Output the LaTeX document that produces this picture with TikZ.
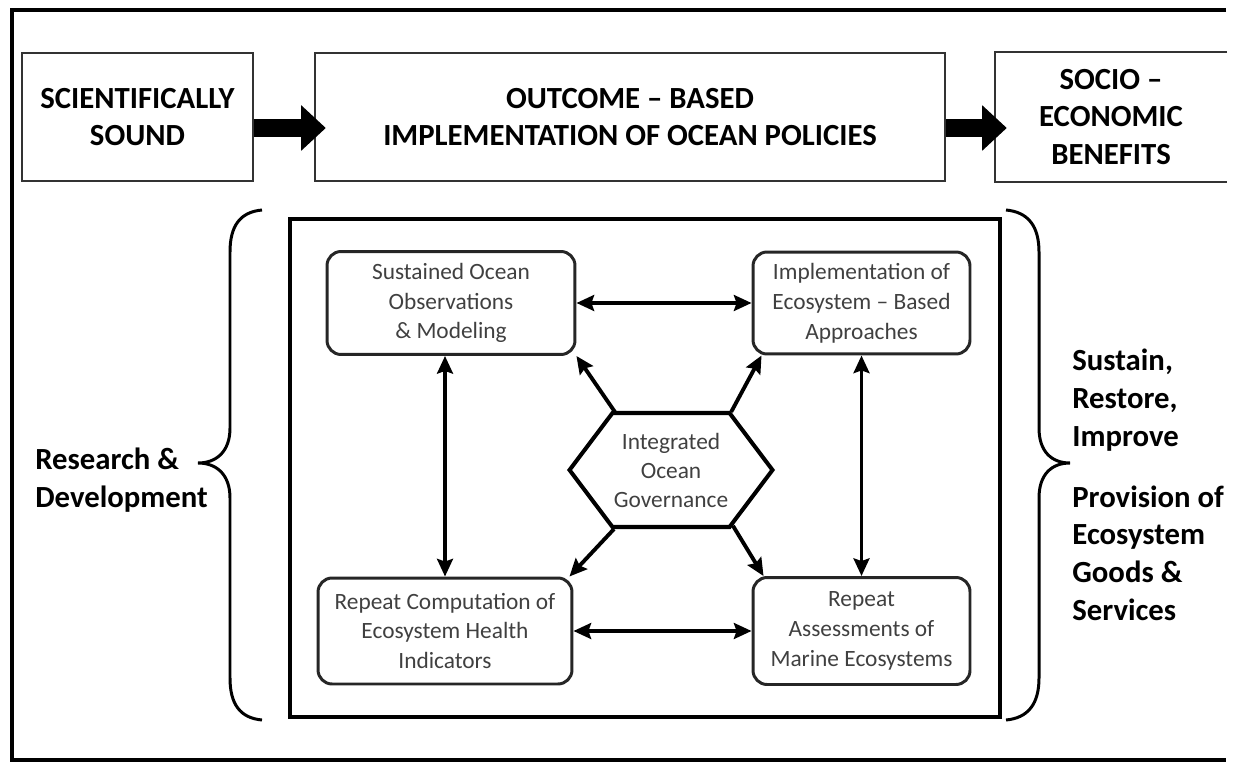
\documentclass[tikz,border=0pt]{standalone}
\usepackage{fontspec}
\setmainfont{Carlito}
\usetikzlibrary{positioning,shapes,arrows.meta}

\begin{document}
\begin{tikzpicture}[x=0.02cm, y=-0.02cm]
    \tikzset{
        topbox/.style = {rectangle, line width=1.4pt, draw=black!80, minimum height=2.56cm, inner sep=0pt, align=center, font=\bfseries\fontsize{17.5}{21.5}\selectfont},
        roundbox/.style = {rectangle, rounded corners=8pt, line width=1.7pt, draw=black!85, inner sep=0pt, align=center, text=black!75, font=\fontsize{13.3}{17}\selectfont},
        sidetext/.style = {align=left, inner sep=0pt, font=\bfseries\fontsize{17.5}{21.5}\selectfont},
        arrow/.style = {line width=2.2pt, ->, >={Stealth[length=10pt,width=9pt,inset=1.5pt]}},
        twoway/.style = {arrow, <->},
        fatarrow/.style = {line width=10.5pt, -{Triangle[length=14pt,width=25pt]}},
        curly/.style = {line width=1.7pt},
    }
    \useasboundingbox (0,0) rectangle (1233,763);
    \draw [line width=2.3pt] (1226,10) -- (12,10) -- (12,760) -- (1226,760);

    \node (sound) [topbox, minimum width=4.62cm] at (137.5,117) {SCIENTIFICALLY\\ SOUND};
    \node (outcome) [topbox, minimum width=12.6cm] at (630,117) {OUTCOME – BASED\\ IMPLEMENTATION OF OCEAN POLICIES};
    \node (socio) [topbox, draw=none, minimum width=4.6cm] at (1111,117) {SOCIO –\\ ECONOMIC\\ BENEFITS};
    \draw [line width=1.4pt, draw=black!80] (socio.north east) -- (socio.north west) -- (socio.south west) -- (socio.south east);

    \draw [fatarrow] ([yshift=-0.22cm]sound.east) -- ([xshift=0.24cm,yshift=-0.22cm]outcome.west);
    \draw [fatarrow] ([yshift=-0.22cm]outcome.east) -- ([xshift=0.24cm,yshift=-0.22cm]socio.west);

    \node (panel) [draw, line width=2.3pt, minimum width=14.2cm, minimum height=9.96cm] at (645,468) {};

    \node (observ) [roundbox, minimum width=4.96cm, minimum height=2.06cm] at (451,303) {Sustained Ocean\\ Observations\\ \& Modeling};
    \node (ecoapp) [roundbox, minimum width=4.34cm, minimum height=2.04cm] at (861.5,303) {Implementation of\\ Ecosystem – Based\\ Approaches};
    \node (health) [roundbox, minimum width=5.08cm, minimum height=2.12cm] at (445,631) {Repeat Computation of\\ Ecosystem Health\\ Indicators};
    \node (assess) [roundbox, minimum width=4.34cm, minimum height=2.14cm] at (861.5,631) {Repeat\\ Assessments of\\ Marine Ecosystems};
    \node (gov) [signal, signal to=east and west, signal pointer angle=106, draw=black, line width=2.3pt, minimum width=4.06cm, minimum height=2.28cm, inner sep=0pt, align=center, text=black!75, font=\fontsize{13.3}{16.5}\selectfont] at (671,470) {Integrated\\ Ocean\\ Governance};

    \draw [twoway] (observ) -- (ecoapp);
    \draw [twoway] (health) -- (assess);
    \draw [twoway] (health.north) -- (health.north |- observ.south);
    \draw [twoway] (ecoapp) -- (assess);
    \draw [arrow] (gov.134) -- (observ.south east);
    \draw [arrow] (gov.44) -- ([xshift=0.2cm]ecoapp.south west);
    \draw [arrow] (gov.226) -- ([xshift=-0.08cm]health.north east);
    \draw [arrow] (gov.-42) -- ([xshift=0.24cm]assess.north west);

    \draw [curly] (262,210) .. controls (240,212) and (230,226) .. (230,252) -- (230,428)
        .. controls (230,452) and (216,463) .. (198,463) .. controls (216,463) and (230,474) .. (230,498)
        -- (230,678) .. controls (230,704) and (240,718) .. (262,720);
    \draw [curly] (1006,210) .. controls (1028,212) and (1039,226) .. (1039,252) -- (1039,428)
        .. controls (1039,452) and (1052,463) .. (1070,463) .. controls (1052,463) and (1039,474) .. (1039,498)
        -- (1039,678) .. controls (1039,704) and (1028,718) .. (1006,720);
    \node (research) [sidetext, anchor=west] at (35,480) {Research \&\\ Development};
    \node (benefits) [sidetext, anchor=west] at (1072,485) {Sustain,\\ Restore,\\ Improve\\[13pt] Provision of\\ Ecosystem\\ Goods \&\\ Services};
\end{tikzpicture}
\end{document}
